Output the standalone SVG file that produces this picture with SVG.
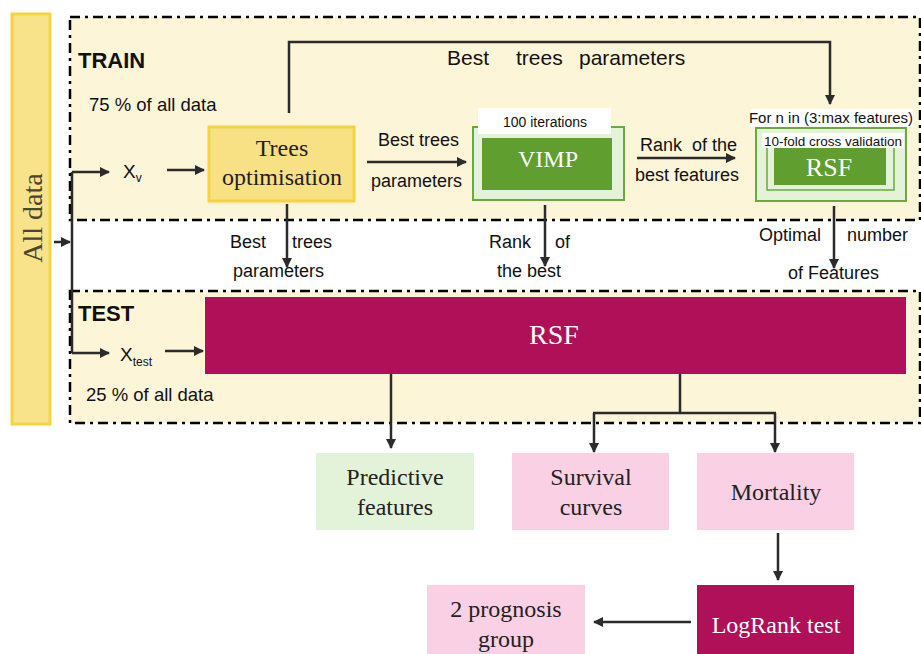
<svg xmlns="http://www.w3.org/2000/svg" width="921" height="654" viewBox="0 0 921 654">
<defs>
<marker id="ah" viewBox="0 0 10 10" refX="9" refY="5" markerWidth="4" markerHeight="4" orient="auto">
<path d="M0,0 L10,5 L0,10 z" fill="#2b2b2b"/>
</marker>
<style>
.sans{font-family:"Liberation Sans",Arial,sans-serif;fill:#111;}
.serif{font-family:"Liberation Serif","Times New Roman",serif;}
.zone{fill:#fdf5d8;stroke:#000;stroke-width:2.5;stroke-dasharray:10 5 3 5;}
.con{fill:none;stroke:#2b2b2b;stroke-width:2.5;marker-end:url(#ah);}
.line{fill:none;stroke:#2b2b2b;stroke-width:2.5;}
.lg{fill:#e3f2d9;stroke:#6aaa3a;stroke-width:2;}
.dg{fill:#5f9e2f;}
.pink{fill:#f9d0e4;}
.mag{fill:#b01057;}
.wt{fill:#fff;}
.dk{fill:#222;}
</style>
</defs>
<rect width="921" height="654" fill="#fff"/>

<g id="all-data">
<rect x="12" y="14" width="38" height="410" fill="#f8e28a" stroke="#f5d442" stroke-width="3"/>
<text class="serif" transform="translate(42,218) rotate(-90)" text-anchor="middle" font-size="28" fill="#4a4535">All data</text>
</g>

<g id="train">
<rect class="zone" x="70" y="17" width="850" height="203"/>
<text class="sans" x="78" y="68" font-size="22" font-weight="bold">TRAIN</text>
<text class="sans" x="89" y="111" font-size="18.5">75 % of all data</text>
<text class="sans" x="123" y="178" font-size="19">X<tspan font-size="12" dy="4">v</tspan></text>
</g>

<g id="test">
<rect class="zone" x="70" y="291" width="850" height="132"/>
<text class="sans" x="78" y="321" font-size="22" font-weight="bold">TEST</text>
<text class="sans" x="86" y="401" font-size="18.5">25 % of all data</text>
<text class="sans" x="120" y="361" font-size="19">X<tspan font-size="12" dy="5">test</tspan></text>
</g>

<g id="trees-opt">
<rect x="209" y="127" width="145" height="74" fill="#f8e084" stroke="#f5d442" stroke-width="3"/>
<text class="serif dk" x="282" y="156" font-size="24" text-anchor="middle">Trees</text>
<text class="serif dk" x="282" y="185" font-size="24" text-anchor="middle">optimisation</text>
</g>

<g id="vimp">
<rect class="lg" x="473" y="127" width="151" height="73"/>
<rect x="478" y="108" width="133" height="26" fill="#fff"/>
<text class="sans" x="545" y="127" font-size="14" text-anchor="middle">100 iterations</text>
<rect class="dg" x="482" y="138" width="130" height="52"/>
<text class="serif wt" x="548" y="167" font-size="24" text-anchor="middle">VIMP</text>
</g>

<g id="rsf-cv">
<rect x="750" y="109" width="163" height="18" fill="#fff"/>
<text class="sans" x="831" y="123" font-size="15" text-anchor="middle">For n in (3:max features)</text>
<rect class="lg" x="756" y="128" width="150" height="73"/>
<rect x="767" y="145" width="127" height="45" fill="#e3f2d9" stroke="#6aaa3a" stroke-width="1.5"/>
<rect x="762" y="133" width="142" height="15" fill="#fff"/>
<text class="sans" x="833" y="146" font-size="13.5" text-anchor="middle">10-fold cross validation</text>
<rect class="dg" x="774" y="148" width="112" height="37"/>
<text class="serif wt" x="829" y="176" font-size="26" text-anchor="middle">RSF</text>
</g>

<g id="rsf-test">
<rect class="mag" x="205" y="297" width="701" height="77"/>
<text class="serif wt" x="554" y="344" font-size="28" text-anchor="middle">RSF</text>
</g>

<g id="predictive">
<rect x="316" y="453" width="158" height="77" fill="#e3f3d9"/>
<text class="serif dk" x="395" y="485" font-size="24" text-anchor="middle">Predictive</text>
<text class="serif dk" x="395" y="515" font-size="24" text-anchor="middle">features</text>
</g>

<g id="survival">
<rect class="pink" x="512" y="453" width="157" height="77"/>
<text class="serif dk" x="591" y="485" font-size="24" text-anchor="middle">Survival</text>
<text class="serif dk" x="591" y="515" font-size="24" text-anchor="middle">curves</text>
</g>

<g id="mortality">
<rect class="pink" x="697" y="453" width="157" height="77"/>
<text class="serif dk" x="776" y="500" font-size="24" text-anchor="middle">Mortality</text>
</g>

<g id="logrank">
<rect class="mag" x="697" y="585" width="157" height="69"/>
<text class="serif wt" x="776" y="633" font-size="24" text-anchor="middle">LogRank test</text>
</g>

<g id="prognosis">
<rect class="pink" x="427" y="585" width="158" height="69"/>
<text class="serif dk" x="506" y="617" font-size="24" text-anchor="middle">2 prognosis</text>
<text class="serif dk" x="506" y="647" font-size="24" text-anchor="middle">group</text>
</g>

<g id="connectors">
<path class="con" d="M54,242 L70,242"/>
<path class="line" d="M72,172 L72,353"/>
<path class="con" d="M72,172 L109,172"/>
<path class="con" d="M72,353 L109,353"/>
<path class="con" d="M167,170 L204,170"/>
<path class="con" d="M165,351 L203,351"/>
<path class="con" d="M289,113 L289,42 L830,42 L830,104"/>
<path class="con" d="M367,162 L466,162"/>
<path class="con" d="M637,158 L735,158"/>
<path class="con" d="M287,204 L287,267"/>
<path class="con" d="M545,205 L545,266"/>
<path class="con" d="M834,206 L834,268"/>
<path class="con" d="M391,374 L391,448"/>
<path class="line" d="M680,374 L680,413"/>
<path class="con" d="M594,413 L594,452"/>
<path class="con" d="M775,413 L775,452"/>
<path class="line" d="M593,413 L776,413"/>
<path class="con" d="M778,533 L778,580"/>
<path class="con" d="M691,622 L594,622"/>
</g>

<g id="labels">
<text class="sans" x="447" y="65" font-size="21">Best</text>
<text class="sans" x="516" y="65" font-size="21">trees</text>
<text class="sans" x="579" y="65" font-size="21">parameters</text>
<text class="sans" x="378" y="146" font-size="18">Best trees</text>
<text class="sans" x="371" y="187" font-size="18">parameters</text>
<text class="sans" x="640" y="151" font-size="18">Rank</text>
<text class="sans" x="692" y="151" font-size="18">of the</text>
<text class="sans" x="635" y="181" font-size="18">best features</text>
<text class="sans" x="230" y="248" font-size="18">Best</text>
<text class="sans" x="292" y="248" font-size="18">trees</text>
<text class="sans" x="233" y="277" font-size="18">parameters</text>
<text class="sans" x="489" y="248" font-size="18">Rank</text>
<text class="sans" x="555" y="248" font-size="18">of</text>
<text class="sans" x="497" y="277" font-size="18">the best</text>
<text class="sans" x="759" y="241" font-size="18">Optimal</text>
<text class="sans" x="847" y="241" font-size="18">number</text>
<text class="sans" x="788" y="279" font-size="18">of Features</text>
</g>
</svg>
